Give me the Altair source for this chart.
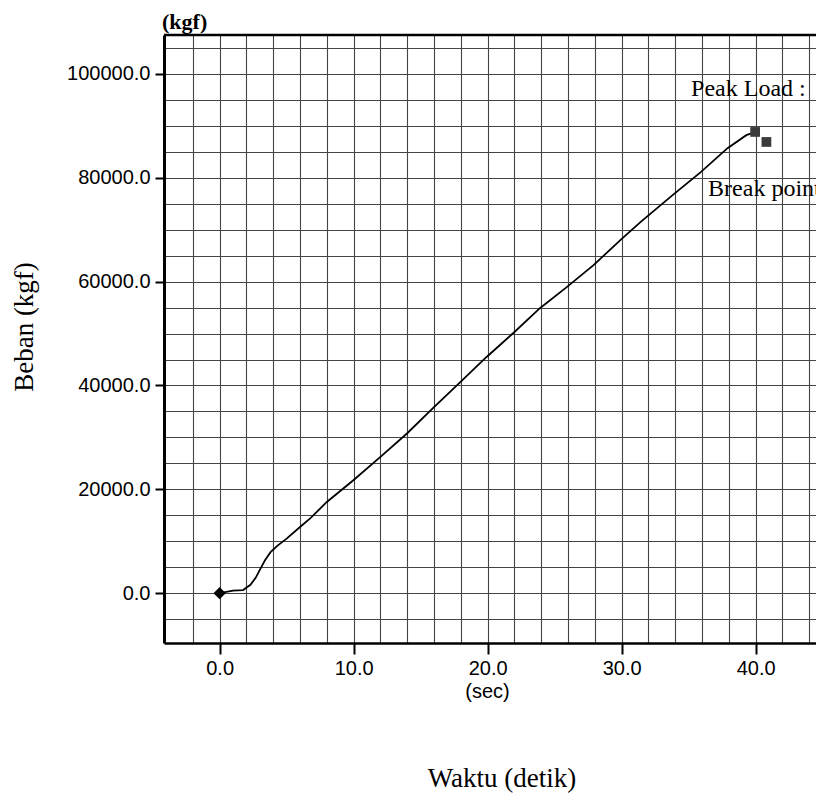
import altair as alt
import pandas as pd

# ---- data ----
time_s = [0, 1.0, 1.75, 2.3, 2.7, 3.0, 3.4, 3.8, 4.3, 5.0, 6.0, 6.8, 8.0, 10.0, 12.0,
          14.0, 15.9, 17.9, 19.9, 21.9, 23.9, 25.9, 27.9, 29.9, 31.4, 33.8, 35.9,
          37.9, 39.3, 40.0]
load_kgf = [0, 500, 600, 1600, 3000, 4470, 6400, 7900, 9100, 10500, 12750, 14500,
            17560, 21800, 26260, 30800, 35600, 40500, 45440, 50060, 54880, 58940,
            63170, 67990, 71460, 76660, 81090, 85710, 88210, 88830]

start_t = [0.0]
start_load = [0]
marker_t = [39.96, 40.8]
marker_load = [88830, 86900]

note_text = ["Peak Load :", "Break point :"]
note_t = [35.18, 36.45]
note_load = [95760, 76500]

x_grid = [-2, 0, 2, 4, 6, 8, 10, 12, 14, 16, 18, 20, 22, 24, 26, 28, 30, 32, 34,
          36, 38, 40, 42, 44]
y_grid = [-5000, 0, 5000, 10000, 15000, 20000, 25000, 30000, 35000, 40000, 45000,
          50000, 55000, 60000, 65000, 70000, 75000, 80000, 85000, 90000, 95000,
          100000, 105000]

x_title = "(sec)"
y_unit = ["(kgf)"]
y_title = ["Beban (kgf)"]
bottom_title = ["Waktu (detik)"]

W, H = 652, 608

df = pd.DataFrame({"t": time_s, "load": load_kgf})
df_start = pd.DataFrame({"t": start_t, "load": start_load})
df_mark = pd.DataFrame({"t": marker_t, "load": marker_load})
df_note = pd.DataFrame({"t": note_t, "load": note_load, "label": note_text})

x_scale = alt.Scale(domain=[-4.15, 44.5], nice=False, zero=False)
y_scale = alt.Scale(domain=[-9600, 107500], nice=False, zero=False)

x_axis = alt.Axis(
    values=x_grid, tickCount=200,
    labelExpr="datum.value % 10 == 0 ? format(datum.value, '.1f') : ''",
    grid=True, gridColor="#444444", gridWidth=1.1,
    tickOpacity={"condition": {"test": "datum.value % 10 == 0", "value": 1}, "value": 0},
    tickSize=11, tickColor="black", tickWidth=2,
    domainColor="black", domainWidth=2.5,
    labelFont="Liberation Sans", labelFontSize=20, labelColor="black",
    labelPadding=4, labelOverlap=False, labelFlush=False,
    title=x_title, titleFont="Liberation Sans", titleFontSize=20,
    titleFontWeight="normal", titleColor="black",
    titleX=323, titleY=54, titleAlign="center", titleBaseline="alphabetic",
)
y_axis = alt.Axis(
    values=y_grid, tickCount=200,
    labelExpr="datum.value % 20000 == 0 ? format(datum.value, '.1f') : ''",
    grid=True, gridColor="#444444", gridWidth=1.1,
    tickOpacity={"condition": {"test": "datum.value % 20000 == 0", "value": 1}, "value": 0},
    tickSize=9, tickColor="black", tickWidth=2,
    domainColor="black", domainWidth=3,
    labelFont="Liberation Sans", labelFontSize=20, labelColor="black",
    labelPadding=5, labelOverlap=False, labelFlush=False,
    title=None,
)

line = alt.Chart(df).mark_line(color="black", strokeWidth=1.8).encode(
    x=alt.X("t:Q", scale=x_scale, axis=x_axis),
    y=alt.Y("load:Q", scale=y_scale, axis=y_axis),
)

start = alt.Chart(df_start).mark_point(
    shape="diamond", filled=True, color="black", size=150, opacity=1
).encode(x="t:Q", y="load:Q")

marks = alt.Chart(df_mark).mark_square(
    color="#3a3a3a", size=95, opacity=1
).encode(x="t:Q", y="load:Q")

notes = alt.Chart(df_note).mark_text(
    align="left", baseline="alphabetic", font="Liberation Serif",
    fontSize=24, color="black", clip=True
).encode(x="t:Q", y="load:Q", text="label:N")

top_frame = alt.Chart(df_start).mark_rule(color="black", strokeWidth=2.5).encode(
    x=alt.value(0), x2=alt.value(W), y=alt.value(0)
)

unit = alt.Chart(pd.DataFrame({"s": y_unit})).mark_text(
    align="left", baseline="alphabetic", font="Liberation Serif",
    fontSize=22, fontWeight="bold", color="black"
).encode(text="s:N", x=alt.value(-2), y=alt.value(-6))

ytitle = alt.Chart(pd.DataFrame({"s": y_title})).mark_text(
    align="center", baseline="middle", font="Liberation Serif",
    fontSize=27, color="black", angle=270
).encode(text="s:N", x=alt.value(-139), y=alt.value(292))

btitle = alt.Chart(pd.DataFrame({"s": bottom_title})).mark_text(
    align="center", baseline="alphabetic", font="Liberation Serif",
    fontSize=27, color="black"
).encode(text="s:N", x=alt.value(338), y=alt.value(752))

chart = alt.layer(line, start, marks, notes, top_frame, unit, ytitle, btitle).properties(
    width=W, height=H,
    autosize=alt.AutoSizeParams(type="none"),
    padding={"left": 164, "top": 35, "right": 0, "bottom": 151},
    background="white",
).configure_view(stroke=None)

chart.save("out.html", embed_options={"renderer": "svg", "actions": False})
